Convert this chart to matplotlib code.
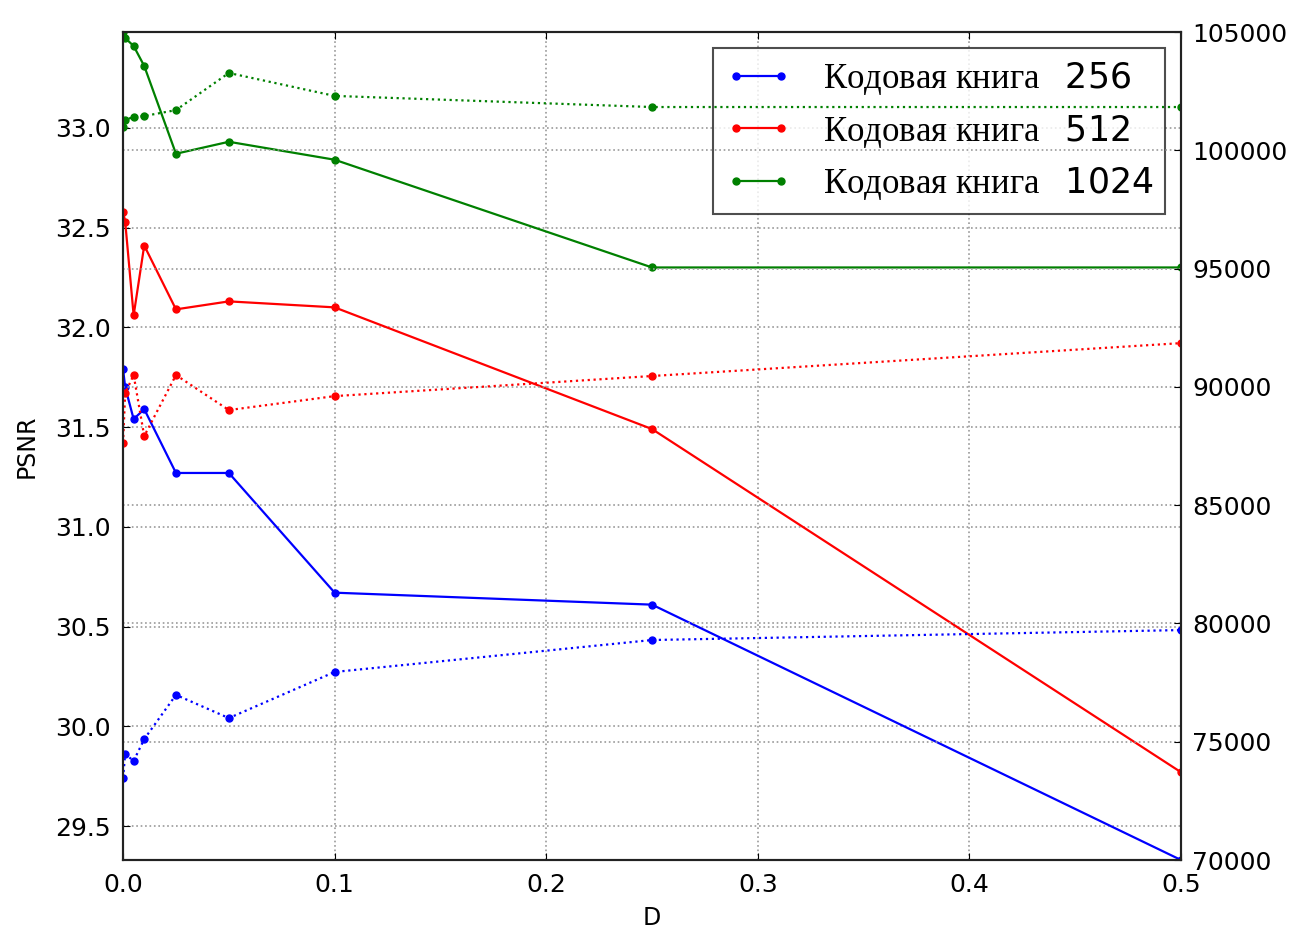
import numpy as np
import matplotlib
matplotlib.use('Agg')
import matplotlib.pyplot as plt

plt.rcParams['mathtext.fontset'] = 'dejavusans'

# data
d = [0, 0.001, 0.005, 0.01, 0.025, 0.05, 0.1, 0.25, 0.5]

psnr_256 = [31.79, 31.70, 31.54, 31.59, 31.27, 31.27, 30.67, 30.61, 29.33]
psnr_512 = [32.58, 32.53, 32.06, 32.41, 32.09, 32.13, 32.10, 31.49, 29.77]
psnr_1024 = [33.48, 33.45, 33.41, 33.31, 32.87, 32.93, 32.84, 32.30, 32.30]

size_256 = [73470, 74480, 74190, 75110, 76980, 76000, 77950, 79300, 79720]
size_512 = [87630, 89740, 90500, 87920, 90500, 89020, 89610, 90460, 91850]
size_1024 = [100980, 101300, 101400, 101450, 101700, 103270, 102300, 101830, 101830]

books = ['256', '512', '1024']
colors = ['b', 'r', 'g']

fig = plt.figure(figsize=(13.05, 9.34), dpi=100)
ax = fig.add_axes([0.0943, 0.0792, 0.8107, 0.8865])
ax2 = ax.twinx()

for psnr, size, book, col in zip([psnr_256, psnr_512, psnr_1024],
                                 [size_256, size_512, size_1024], books, colors):
    ax.plot(d, psnr, '-', color=col, lw=1.6, marker='o', ms=5, mec=col,
            label='Кодовая книга   $%s$' % book)
    ax2.plot(d, size, ':', color=col, lw=1.6, marker='o', ms=5, mec=col)

ax.set_xlim(0, 0.5)
ax.set_ylim(min(psnr_256), max(psnr_1024))
ax2.set_ylim(70000, 105000)

ax.set_xticks(np.arange(0, 0.51, 0.1))
ax.set_yticks(np.arange(29.5, 33.01, 0.5))
ax2.set_yticks(np.arange(70000, 105001, 5000))

ax.grid(True, linestyle=':', color='#999999', lw=1.2)
ax2.yaxis.grid(True, linestyle=':', color='#999999', lw=1.2)

ax.tick_params(direction='in', labelsize=18, top=True, length=5, pad=9)
ax2.tick_params(direction='in', labelsize=18, length=5, pad=8)

ax.set_xlabel('D', fontsize=17, labelpad=7)
ax.set_ylabel('PSNR', fontsize=17, labelpad=12)

for a in (ax, ax2):
    for s in a.spines.values():
        s.set_linewidth(1.5)
        s.set_color('#222222')

leg = ax.legend(loc='upper right', bbox_to_anchor=(0.985, 0.981), fancybox=False,
                numpoints=2, handlelength=1.9, borderaxespad=0,
                prop={'family': ['Liberation Serif', 'DejaVu Sans'], 'size': 25},
                borderpad=0.35, labelspacing=0.45, handletextpad=0.9)
leg.get_frame().set_edgecolor('#222222')
leg.get_frame().set_linewidth(1.5)
leg.set_zorder(10)

fig.savefig('out.png', dpi=100)
